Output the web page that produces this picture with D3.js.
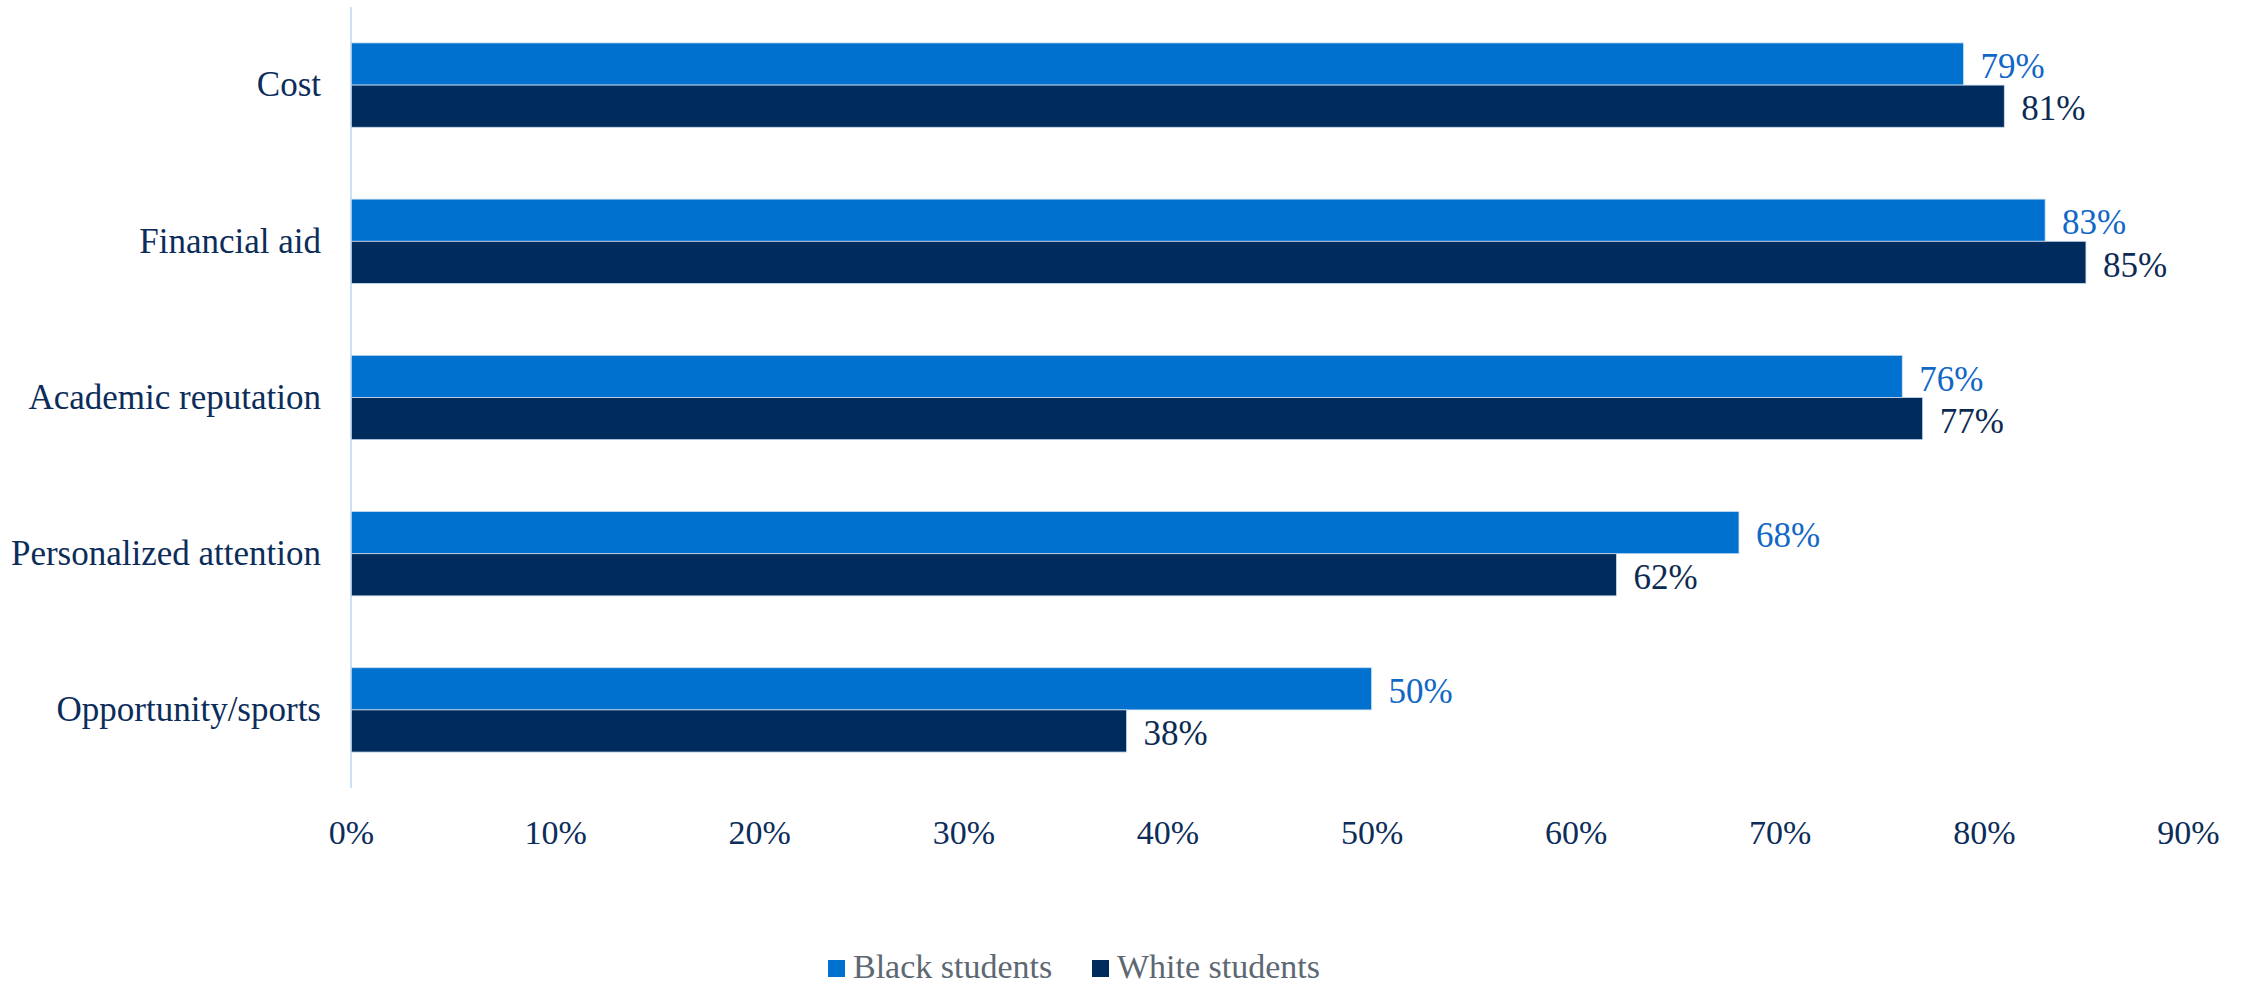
<!DOCTYPE html>
<html>
<head>
<meta charset="utf-8">
<script src="https://cdn.jsdelivr.net/npm/d3@7"></script>
<style>
  body { margin: 0; background: #fff; }
  text { font-family: "Liberation Serif", "Times New Roman", serif; }
</style>
</head>
<body>
<div id="chart"></div>
<script>
const categories = ["Cost", "Financial aid", "Academic reputation", "Personalized attention", "Opportunity/sports"];
const seriesNames = ["Black students", "White students"];
const blackValues = [79, 83, 76, 68, 50];
const whiteValues = [81, 85, 77, 62, 38];
const xTicks = [0, 10, 20, 30, 40, 50, 60, 70, 80, 90];

const width = 2247, height = 985;
const colors = ["#0071ce", "#002c5d"];
const labelColors = ["#1167c6", "#0c2b53"];

const svg = d3.select("#chart").append("svg")
    .attr("width", width)
    .attr("height", height);

const x = d3.scaleLinear().domain([0, 90]).range([351, 2188]);
const y = d3.scaleBand().domain(categories).range([7, 788])
    .paddingInner(0.46).paddingOuter(0.23);
const sub = d3.scaleBand().domain(seriesNames).range([0, y.bandwidth()]);

const rows = categories.map((c, i) => ({cat: c, vals: [blackValues[i], whiteValues[i]]}));

// bars
const groups = svg.selectAll("g.cat")
    .data(rows)
    .enter().append("g")
    .attr("class", "cat")
    .attr("transform", d => `translate(0, ${y(d.cat)})`);

groups.selectAll("rect")
    .data(d => d.vals.map((v, j) => ({v, s: seriesNames[j], j})))
    .enter().append("rect")
    .attr("x", x(0))
    .attr("y", d => sub(d.s))
    .attr("width", d => x(d.v) - x(0))
    .attr("height", sub.bandwidth())
    .attr("fill", d => colors[d.j])
    .attr("stroke", "#c9dcf0")
    .attr("stroke-width", 0.8);

groups.selectAll("text.val")
    .data(d => d.vals.map((v, j) => ({v, s: seriesNames[j], j})))
    .enter().append("text")
    .attr("class", "val")
    .attr("x", d => x(d.v) + 17)
    .attr("y", d => sub(d.s) + sub.bandwidth() / 2 + 2)
    .attr("dy", "0.35em")
    .attr("font-size", 35)
    .attr("fill", d => labelColors[d.j])
    .text(d => d.v + "%");

// y axis
const yAxis = svg.append("g")
    .attr("transform", `translate(${x(0)}, 0)`)
    .call(d3.axisLeft(y).tickSize(0).tickPadding(30));
yAxis.select(".domain").remove();
yAxis.selectAll("text")
    .attr("font-size", 35)
    .attr("fill", "#0c2d5a")
    .style("font-family", "Liberation Serif");

svg.append("line")
    .attr("x1", x(0)).attr("x2", x(0))
    .attr("y1", 7).attr("y2", 788)
    .attr("stroke", "#bdd7ee")
    .attr("stroke-width", 1.5);

// x axis
const xAxis = svg.append("g")
    .attr("transform", "translate(0, 788)")
    .call(d3.axisBottom(x).tickValues(xTicks).tickSize(0).tickPadding(32).tickFormat(d => d + "%"));
xAxis.select(".domain").remove();
xAxis.selectAll("text")
    .attr("font-size", 34)
    .attr("fill", "#0c2d5a")
    .style("font-family", "Liberation Serif");

// legend
const legendX = [828, 1092];
const legend = svg.append("g").attr("transform", "translate(0, 960)");
seriesNames.forEach((name, i) => {
    legend.append("rect")
        .attr("x", legendX[i]).attr("y", 0)
        .attr("width", 17).attr("height", 17)
        .attr("fill", colors[i]);
    legend.append("text")
        .attr("x", legendX[i] + 25)
        .attr("y", 18)
        .attr("font-size", 34)
        .attr("fill", "#5d6872")
        .text(name);
});
</script>
</body>
</html>
